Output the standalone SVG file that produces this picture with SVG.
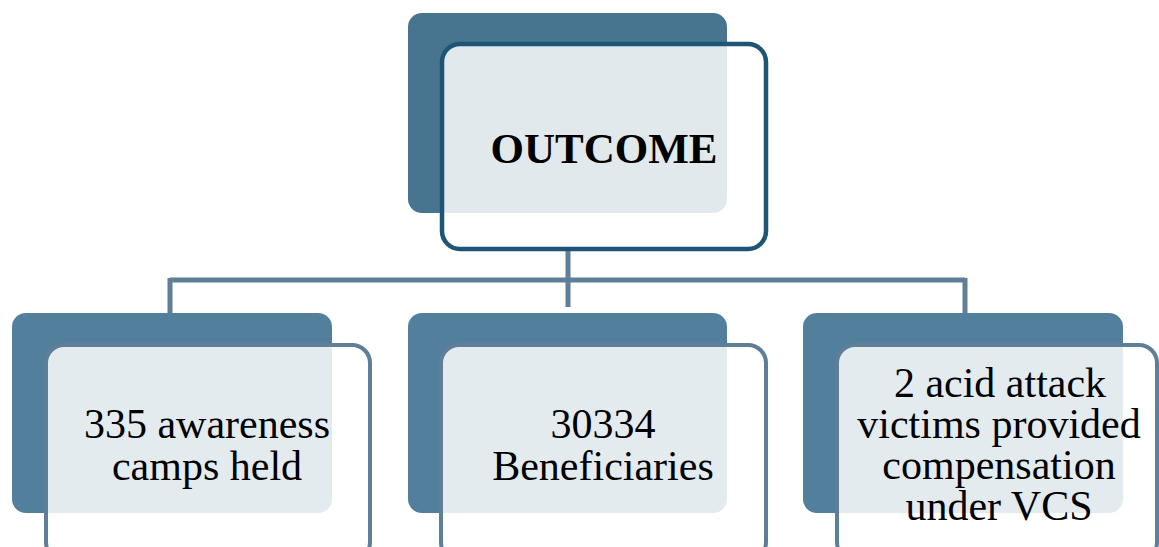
<svg xmlns="http://www.w3.org/2000/svg" width="1159" height="547" viewBox="0 0 1159 547">
<style>
.back{fill:#52809c}
.backtop{fill:#47748f}
.front{fill:#ffffff;fill-opacity:0.84;stroke:#5f7f99;stroke-width:4}
.fronttop{fill:#ffffff;fill-opacity:0.84;stroke:#1e5576;stroke-width:4.5}
.conn{stroke:#5f7f99;stroke-width:5;fill:none}
.t{font-family:"Liberation Serif","DejaVu Serif",serif;font-size:42px;fill:#000;text-anchor:middle}
.tb{font-family:"Liberation Serif","DejaVu Serif",serif;font-size:43px;font-weight:bold;fill:#000;text-anchor:middle}
</style>
<rect width="1159" height="547" fill="#ffffff"/>
<g id="connectors">
<path class="conn" d="M568 250 V307 M170 280 H965 M170 278 V314 M965 278 V314"/>
</g>
<g id="node-outcome">
<rect class="backtop" x="408" y="13" width="319" height="200" rx="14"/>
<rect class="fronttop" x="442" y="44" width="324" height="205" rx="18"/>
<text class="tb" x="604" y="163">OUTCOME</text>
</g>
<g id="node-camps">
<rect class="back" x="12" y="313" width="320" height="200" rx="14"/>
<rect class="front" x="46" y="345" width="324" height="215" rx="18"/>
<text class="t" x="207" y="438">335 awareness</text>
<text class="t" x="207" y="480">camps held</text>
</g>
<g id="node-beneficiaries">
<rect class="back" x="408" y="313" width="319" height="200" rx="14"/>
<rect class="front" x="441" y="345" width="325" height="215" rx="18"/>
<text class="t" x="603" y="438">30334</text>
<text class="t" x="603" y="480">Beneficiaries</text>
</g>
<g id="node-acid">
<rect class="back" x="803" y="313" width="320" height="200" rx="14"/>
<rect class="front" x="837" y="345" width="320" height="215" rx="18"/>
<text class="t" x="1000" y="397">2 acid attack</text>
<text class="t" x="999" y="438">victims provided</text>
<text class="t" x="999" y="479">compensation</text>
<text class="t" x="999" y="520">under VCS</text>
</g>
</svg>
